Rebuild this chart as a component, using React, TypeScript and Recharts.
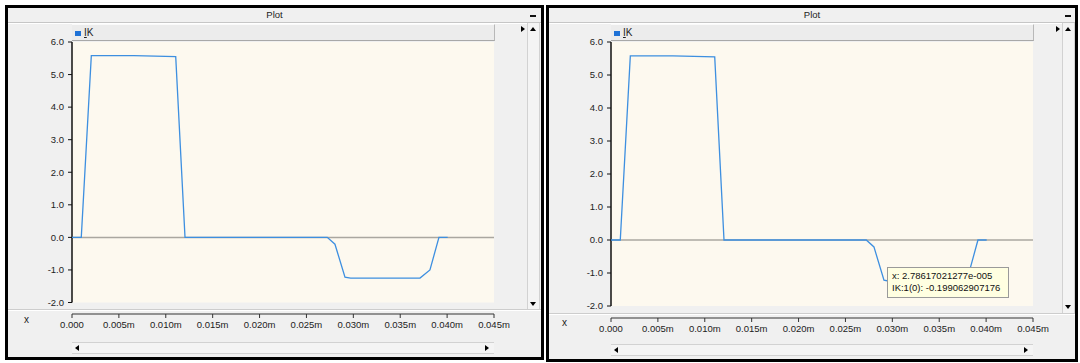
import React from "react";
import { Line, LineChart, ReferenceArea, ReferenceLine, Tooltip, XAxis, YAxis } from "recharts";

// sample times (s) and IK values
const timeValues = [0, 0.00099, 0.00206, 0.00661, 0.01106, 0.01205, 0.02722, 0.02804, 0.02911, 0.02971, 0.03711, 0.03817, 0.03913, 0.04006];
const ikValues = [0, 0, 5.58, 5.58, 5.55, 0, 0, -0.21, -1.22, -1.25, -1.25, -1.0, 0, 0];

const xTicks = [0, 0.005, 0.01, 0.015, 0.02, 0.025, 0.03, 0.035, 0.04, 0.045];
const xTickLabels = ["0.000", "0.005m", "0.010m", "0.015m", "0.020m", "0.025m", "0.030m", "0.035m", "0.040m", "0.045m"];
const yTicks = [-2, -1, 0, 1, 2, 3, 4, 5, 6];
const yTickLabels = ["-2.0", "-1.0", "0.0", "1.0", "2.0", "3.0", "4.0", "5.0", "6.0"];

const seriesName = "IK";
const panelTitle = "Plot";
const xAxisName = "x";
const tipLines = ["x: 2.78617021277e-005", "IK:1(0): -0.199062907176"];

const chartData = timeValues.map((t, i) => ({ t, ik: ikValues[i] }));

const FONT = "'Liberation Sans', Arial, sans-serif";
const LINE_BLUE = "#3d8fe0";

type Geo = {
  ox: number; oy: number; ow: number; oh: number;
  plotL: number; plotR: number; y6: number; yM2: number; axisY: number;
  vsX: number; vsBottom: number; hsY: number; xLabelX: number; xLabelY: number;
};

const leftGeo: Geo = {
  ox: 5, oy: 5, ow: 539, oh: 355,
  plotL: 72, plotR: 494, y6: 42, yM2: 302.5, axisY: 314,
  vsX: 527, vsBottom: 311, hsY: 342, xLabelX: 24, xLabelY: 314,
};

const rightGeo: Geo = {
  ox: 546, oy: 5, ow: 532, oh: 357,
  plotL: 611, plotR: 1033, y6: 42, yM2: 306, axisY: 318,
  vsX: 1062, vsBottom: 314, hsY: 344, xLabelX: 562, xLabelY: 317,
};

function Tri({ dir, x, y, s = 3 }: { dir: "l" | "r" | "u" | "d"; x: number; y: number; s?: number }) {
  const t = `${s}px solid transparent`;
  const c = `${s + 1}px solid #000`;
  const style: React.CSSProperties = { position: "absolute", left: x, top: y, width: 0, height: 0 };
  if (dir === "r") Object.assign(style, { borderTop: t, borderBottom: t, borderLeft: c });
  if (dir === "l") Object.assign(style, { borderTop: t, borderBottom: t, borderRight: c });
  if (dir === "u") Object.assign(style, { borderLeft: t, borderRight: t, borderBottom: c });
  if (dir === "d") Object.assign(style, { borderLeft: t, borderRight: t, borderTop: c });
  return <div style={style} />;
}

function TipBox() {
  return (
    <div
      style={{
        background: "#ffffe1",
        border: "1px solid #9a9a9a",
        padding: "2px 4px 3px 4px",
        fontFamily: FONT,
        fontSize: 9.5,
        lineHeight: "12px",
        color: "#111",
        whiteSpace: "nowrap",
        width: 112,
      }}
    >
      {tipLines.map((l) => (
        <div key={l}>{l}</div>
      ))}
    </div>
  );
}

function IkChart({ geo, showTip }: { geo: Geo; showTip: boolean }) {
  const h = geo.axisY + 30;
  const unit = (geo.yM2 - geo.y6) / 8;
  const yMin = -2 - (geo.axisY - geo.yM2) / unit;
  return (
    <div style={{ position: "absolute", left: geo.ox, top: 0 }}>
      <LineChart
        width={geo.ow}
        height={h}
        data={chartData}
        margin={{ top: geo.y6, right: geo.ox + geo.ow - geo.plotR, bottom: 5, left: geo.plotL - geo.ox - 50 }}
      >
        <ReferenceArea x1={0} x2={0.045} y1={-2} y2={6} fill="#fdf9ef" fillOpacity={1} stroke="none" />
        <ReferenceLine y={0} stroke="#aaa7a0" strokeWidth={1.5} />
        <ReferenceLine segment={[{ x: 0, y: -2 }, { x: 0, y: 6 }]} stroke="#111" strokeWidth={1.5} />
        <XAxis
          type="number"
          dataKey="t"
          domain={[0, 0.045]}
          ticks={xTicks}
          interval={0}
          allowDataOverflow
          tickFormatter={(_v: number, i: number) => xTickLabels[i]}
          height={25}
          tickSize={4}
          tickMargin={3}
          stroke="#333"
          tick={{ fill: "#222", fontSize: 9.5, fontFamily: FONT }}
        />
        <YAxis
          type="number"
          domain={[yMin, 6]}
          ticks={yTicks}
          interval={0}
          allowDataOverflow
          tickFormatter={(_v: number, i: number) => yTickLabels[i]}
          width={50}
          axisLine={false}
          tickSize={4}
          tickMargin={4}
          stroke="#111"
          tick={{ fill: "#222", fontSize: 9.5, fontFamily: FONT }}
        />
        <Line
          type="linear"
          dataKey="ik"
          name={seriesName}
          stroke={LINE_BLUE}
          strokeWidth={1.3}
          dot={false}
          activeDot={false}
          isAnimationActive={false}
        />
        {showTip && (
          <Tooltip
            active
            defaultIndex={7}
            cursor={false}
            isAnimationActive={false}
            position={{ x: 887 - geo.ox, y: 267 }}
            wrapperStyle={{ outline: "none", zIndex: 20 }}
            content={() => <TipBox />}
          />
        )}
      </LineChart>
    </div>
  );
}

function Panel({ geo, showTip }: { geo: Geo; showTip: boolean }) {
  const inL = geo.ox + 3;
  const inR = geo.ox + geo.ow - 3;
  const abs = (s: React.CSSProperties): React.CSSProperties => ({ position: "absolute", ...s });
  return (
    <>
      <div
        style={abs({
          left: geo.ox, top: geo.oy, width: geo.ow, height: geo.oh,
          border: "3px solid #000", boxSizing: "border-box", background: "#f0f0f0",
        })}
      />
      {/* title bar */}
      <div
        style={abs({
          left: inL, top: geo.oy + 3, width: inR - inL, height: 14,
          borderBottom: "1px solid #c6c6c6", textAlign: "center",
          fontFamily: FONT, fontSize: 9.5, lineHeight: "14px", color: "#222",
        })}
      >
        {panelTitle}
      </div>
      <div style={abs({ left: inL, top: geo.oy + 18, width: inR - inL, height: 1, background: "#fff" })} />
      <div style={abs({ left: geo.vsX + 3, top: geo.oy + 10, width: 6, height: 2, background: "#111" })} />
      {/* legend bar */}
      <div
        style={abs({
          left: geo.plotL, top: 24, width: geo.plotR + 1 - geo.plotL, height: 17,
          background: "#ececec", borderTop: "1px solid #fafafa", borderBottom: "1px solid #a8a8a8",
          borderRight: "1px solid #b8b8b8", boxSizing: "border-box",
        })}
      >
        <div style={abs({ left: 3, top: 6, width: 6, height: 5, background: "#1f72d6" })} />
        <div style={abs({ left: 12, top: 1, fontFamily: FONT, fontSize: 10, lineHeight: "13px", color: "#222" })}>
          <span style={{ textDecoration: "underline" }}>{seriesName.slice(0, 1)}</span>
          {seriesName.slice(1)}
        </div>
      </div>
      <Tri dir="r" x={geo.vsX - 6} y={26} s={3} />
      {/* vertical scrollbar */}
      <div
        style={abs({
          left: geo.vsX, top: 23, width: 13, height: geo.vsBottom - 23,
          background: "#f4f4f4", borderLeft: "1px solid #d2d2d2", borderRight: "1px solid #d2d2d2",
          boxSizing: "border-box",
        })}
      />
      <Tri dir="u" x={geo.vsX + 3} y={27} s={3} />
      <Tri dir="d" x={geo.vsX + 3} y={geo.vsBottom - 9} s={3} />
      {/* separator above x axis */}
      <div style={abs({ left: inL, top: geo.axisY - 5, width: inR - inL, height: 1, background: "#cdcdcd" })} />
      <div style={abs({ left: inL, top: geo.axisY - 4, width: inR - inL, height: 1, background: "#fff" })} />
      <div style={abs({ left: geo.xLabelX, top: geo.xLabelY, fontFamily: FONT, fontSize: 10, color: "#222" })}>{xAxisName}</div>
      {/* horizontal scrollbar */}
      <div
        style={abs({
          left: geo.plotL, top: geo.hsY, width: geo.plotR - geo.plotL, height: 12,
          background: "#f4f4f4", borderTop: "1px solid #d2d2d2", borderBottom: "1px solid #d2d2d2",
          boxSizing: "border-box",
        })}
      />
      <Tri dir="l" x={geo.plotL + 3} y={geo.hsY + 3} s={3} />
      <Tri dir="r" x={geo.plotR - 9} y={geo.hsY + 3} s={3} />
      <IkChart geo={geo} showTip={showTip} />
    </>
  );
}

export default function App() {
  return (
    <div
      style={{
        position: "absolute", left: 0, top: 0, width: 1080, height: 363,
        overflow: "hidden", background: "#fff", fontFamily: FONT,
      }}
    >
      <Panel geo={leftGeo} showTip={false} />
      <Panel geo={rightGeo} showTip={true} />
    </div>
  );
}
